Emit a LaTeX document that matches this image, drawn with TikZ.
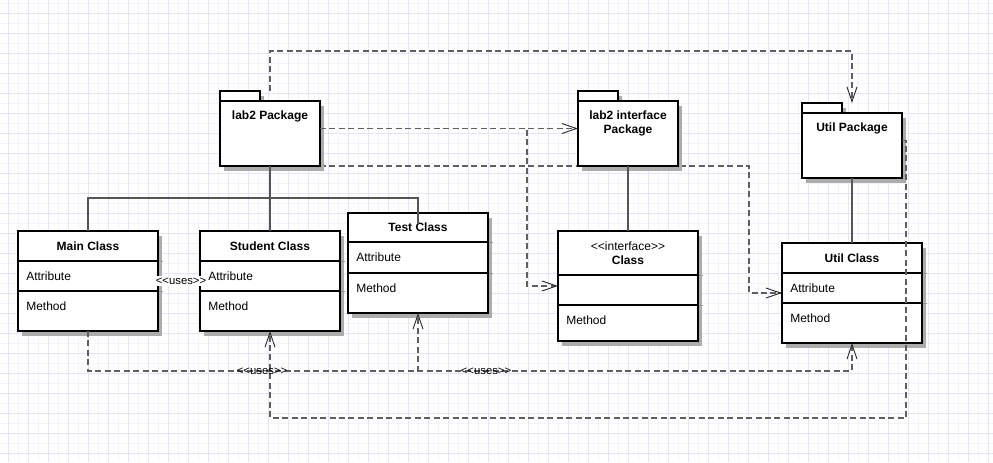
\documentclass[tikz,border=0pt]{standalone}
\usepackage{fontspec}
\setmainfont{Liberation Sans}
\usetikzlibrary{arrows.meta,calc}
\pgfdeclarelayer{gridlayer}
\pgfdeclarelayer{underlayer}
\pgfsetlayers{gridlayer,underlayer,main}

\definecolor{gridlight}{RGB}{243,243,253}
\definecolor{griddark}{RGB}{228,228,250}
\definecolor{shadowgray}{RGB}{172,172,172}
\definecolor{shadowtick}{RGB}{150,150,150}
\definecolor{depgray}{RGB}{95,95,95}
\definecolor{treegray}{RGB}{85,85,85}
\definecolor{tipgray}{RGB}{45,45,45}

% stereotype brackets, kept apart so they are not merged into guillemets
\newcommand\stlt{<{}<}
\newcommand\stgt{>{}>}

\tikzset{
  boxline/.style={draw=black, line width=1.3pt},
  classbox/.style={boxline, fill=white, minimum width=105pt, inner sep=0pt,
    outer sep=0pt, anchor=north west},
  pkgframe/.style={minimum width=75pt, minimum height=56.25pt, inner sep=0pt,
    outer sep=0pt, anchor=north west},
  titletext/.style={font=\bfseries\fontsize{9}{10.5}\selectfont, align=center, inner sep=0pt},
  pkgtext/.style={font=\bfseries\fontsize{9}{10.5}\selectfont, align=center,
    inner sep=0pt, anchor=north},
  membertext/.style={font=\fontsize{9}{10.5}\selectfont, anchor=west, inner sep=0pt},
  usestext/.style={font=\fontsize{8.5}{10}\selectfont, inner sep=0pt},
  tree/.style={draw=treegray, line width=1.15pt},
  dep/.style={draw=depgray, line width=1.2pt, dash pattern=on 4.5pt off 2.6pt},
  deparrow/.style={dep, -{Straight Barb[length=11pt,width=7.5pt,line width=0.7pt,color=tipgray]}},
}

% class box: name, left, top, title height, attribute height, total height (px),
% title, attribute, method
\newcommand\umlclass[9]{%
  \fill[shadowgray] (#2+4,#3+5) rectangle (#2+144,#3+#6+5);
  \draw[shadowtick, line width=0.75pt] (#2+140,#3+#4) -- (#2+145,#3+#4);
  \draw[shadowtick, line width=0.75pt] (#2+140,#3+#4+#5) -- (#2+145,#3+#4+#5);
  \pgfmathsetlengthmacro\clsheight{#6*0.75pt}%
  \node[classbox, minimum height=\clsheight] (#1) at (#2,#3) {};
  \draw[boxline] (#2,#3+#4) -- (#2+140,#3+#4);
  \draw[boxline] (#2,#3+#4+#5) -- (#2+140,#3+#4+#5);
  \node[titletext] at (#2+70,#3+#4/2) {#7};
  \node[membertext] at (#2+8,#3+#4+#5/2) {#8};
  \node[membertext] at (#2+8,#3+#4+#5+15) {#9};
}

% package: name, left, top of tab (px), label
\newcommand\umlpackage[4]{%
  \node[pkgframe] (#1) at (#2,#3) {};
  \fill[shadowgray] (#2+4,#3+5) rectangle (#2+44,#3+15);
  \fill[shadowgray] (#2+4,#3+15) rectangle (#2+104,#3+80);
  \draw[boxline, fill=white] (#2,#3) rectangle (#2+40,#3+10);
  \draw[boxline, fill=white] (#2,#3+10) rectangle (#2+100,#3+75);
  \node[pkgtext] at (#2+50,#3+20) {#4};
}

\begin{document}
\begin{tikzpicture}[x=0.75pt,y=-0.75pt]
\useasboundingbox (0,0) rectangle (993,462);

% drawing-paper grid
\begin{pgfonlayer}{gridlayer}
  \fill[white] (0,0) rectangle (993,462);
  \foreach \gx in {18,38,...,988} \draw[gridlight, line width=0.75pt] (\gx,0) -- (\gx,462);
  \foreach \gy in {3,23,...,453} \draw[gridlight, line width=0.75pt] (0,\gy) -- (993,\gy);
  \foreach \gx in {8,28,...,988} \draw[griddark, line width=0.75pt] (\gx,0) -- (\gx,462);
  \foreach \gy in {13,33,...,453} \draw[griddark, line width=0.75pt] (0,\gy) -- (993,\gy);
\end{pgfonlayer}

% packages
\umlpackage{lab2p}{220}{91}{lab2 Package}
\umlpackage{ifacep}{578}{91}{lab2 interface\\Package}
\umlpackage{utilp}{802}{103}{Util Package}

% classes
\umlclass{mainc}{18}{231}{30}{30}{100}{Main Class}{Attribute}{Method}
\umlclass{studentc}{200}{231}{30}{30}{100}{Student Class}{Attribute}{Method}
\umlclass{testc}{348}{213}{29}{31}{100}{Test Class}{Attribute}{Method}
\umlclass{ifacec}{558}{231}{44}{30}{110}{{\mdseries\stlt interface\stgt}\\Class}{}{Method}
\umlclass{utilc}{782}{243}{30}{30}{100}{Util Class}{Attribute}{Method}

% containment lines
\coordinate (testin) at ($(testc.north)+(0,11)$);
\draw[tree] (lab2p.south) -- (studentc.north);
\draw[tree] (mainc.north) -- ++(0,-33) -| (testin);
\draw[tree] (ifacep.south) -- (ifacec.north);
\draw[tree] (utilp.south) -- (utilc.north);

% dependencies between packages
\draw[deparrow] (lab2p.north) -- ++(0,-40) -| (utilp.north);
\coordinate (splitx) at (527,0);
\coordinate (split) at (lab2p.east -| splitx);
\draw[deparrow] (lab2p.east) -- (ifacep.west);
\draw[deparrow] (lab2p.east) -- (split) |- (ifacec.west);
\begin{pgfonlayer}{underlayer}
  \coordinate (turn) at (749,166);
  \draw[deparrow] (lab2p.south east) -- (turn) |- (utilc.west);
\end{pgfonlayer}

% uses dependencies between classes
\coordinate (mb) at ($(mainc.south)+(0,40)$);
\draw[deparrow] (mainc.south) -- (mb) -| (testc.south);
\draw[deparrow] (mainc.south) -- (mb) -| (utilc.south);
\coordinate (ur) at ($(utilp.east)+(4,0)$);
\coordinate (bot) at (906,418);
\draw[deparrow] (utilp.east) -- (ur) -- (bot) -| (studentc.south);

\node[usestext] (uses1) at (262,371) {\stlt uses\stgt};
\node[usestext] (uses2) at (486,371) {\stlt uses\stgt};
\node[usestext, fill=white, inner sep=1.5pt] (uses3) at (181,281) {\stlt uses\stgt};
\end{tikzpicture}
\end{document}
